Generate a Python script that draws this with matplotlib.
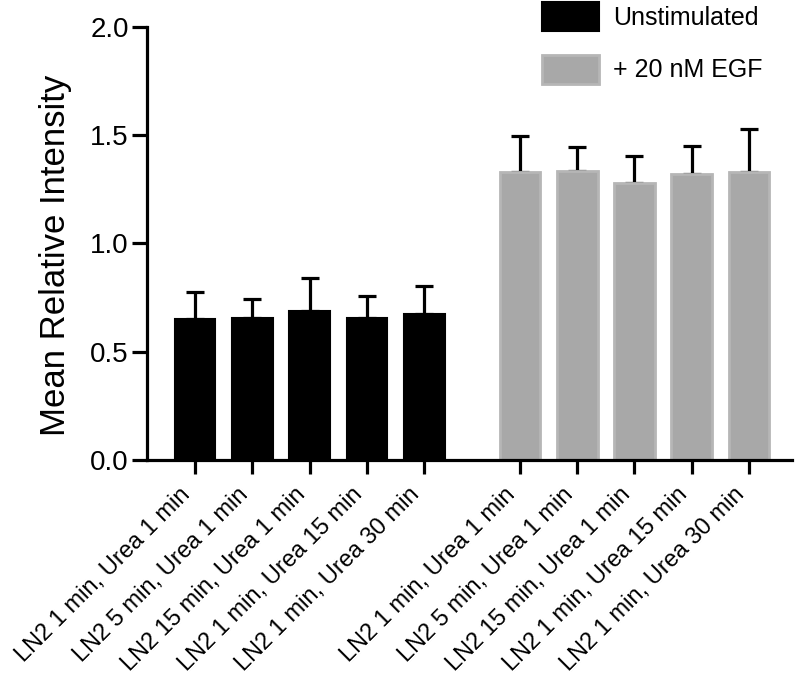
"""Mean relative intensity per LN2/urea condition, unstimulated vs EGF."""

import matplotlib

matplotlib.use("Agg")
import matplotlib.pyplot as plt
import numpy as np

plt.rcParams["font.family"] = ["Liberation Sans", "DejaVu Sans"]

conditions = [
    "LN2 1 min, Urea 1 min",
    "LN2 5 min, Urea 1 min",
    "LN2 15 min, Urea 1 min",
    "LN2 1 min, Urea 15 min",
    "LN2 1 min, Urea 30 min",
]
unstim_mean = [0.651, 0.654, 0.688, 0.654, 0.672]
unstim_err = [0.126, 0.089, 0.153, 0.104, 0.132]
egf_mean = [1.328, 1.335, 1.280, 1.321, 1.328]
egf_err = [0.169, 0.111, 0.123, 0.129, 0.200]

GAP = 1.67
x_unstim = np.arange(len(conditions))
x_egf = x_unstim + len(conditions) - 1 + GAP
width = 0.71

fig = plt.figure(figsize=(8.01, 6.86), dpi=100)
ax = fig.add_axes([0.1835, 0.3294, 0.8053, 0.6316])

err_kw = dict(ecolor="black", elinewidth=2.3, capsize=6.5, capthick=2.3)
ax.bar(x_unstim, unstim_mean, width, color="black", edgecolor="black",
       linewidth=1.5, label="Unstimulated", zorder=2)
ax.errorbar(x_unstim, unstim_mean, yerr=[np.zeros(5), unstim_err], fmt="none",
            zorder=1, **err_kw)
ax.bar(x_egf, egf_mean, width, color="#a8a8a8", edgecolor="#b6b6b6",
       linewidth=2, label="+ 20 nM EGF", zorder=2)
ax.errorbar(x_egf, egf_mean, yerr=[np.zeros(5), egf_err], fmt="none",
            zorder=1, **err_kw)

ax.set_xlim(-0.84, x_egf[-1] + 0.75)
ax.set_ylim(0, 2.0)
ax.set_yticks([0.0, 0.5, 1.0, 1.5, 2.0])
ax.set_yticklabels(["0.0", "0.5", "1.0", "1.5", "2.0"], fontsize=20)
ax.set_xticks(np.concatenate([x_unstim, x_egf]))
ax.set_xticklabels(conditions * 2, rotation=45, ha="right", fontsize=17)
ax.tick_params(axis="both", width=2.3, length=11, direction="out")
ax.tick_params(axis="y", pad=2)
ax.tick_params(axis="x", length=10, pad=7)

for side in ("top", "right"):
    ax.spines[side].set_visible(False)
for side in ("left", "bottom"):
    ax.spines[side].set_linewidth(2.3)

ax.set_ylabel("Mean Relative Intensity", fontsize=25)
ax.yaxis.set_label_coords(-0.116, 0.473)

ax.legend(loc="upper left", bbox_to_anchor=(0.6767, 0.997),
          bbox_transform=fig.transFigure, frameon=False, borderpad=0,
          borderaxespad=0, fontsize=18, handlelength=2.28, handleheight=1.4,
          labelspacing=0.95, handletextpad=0.56)

fig.savefig("out.png", dpi=100)
